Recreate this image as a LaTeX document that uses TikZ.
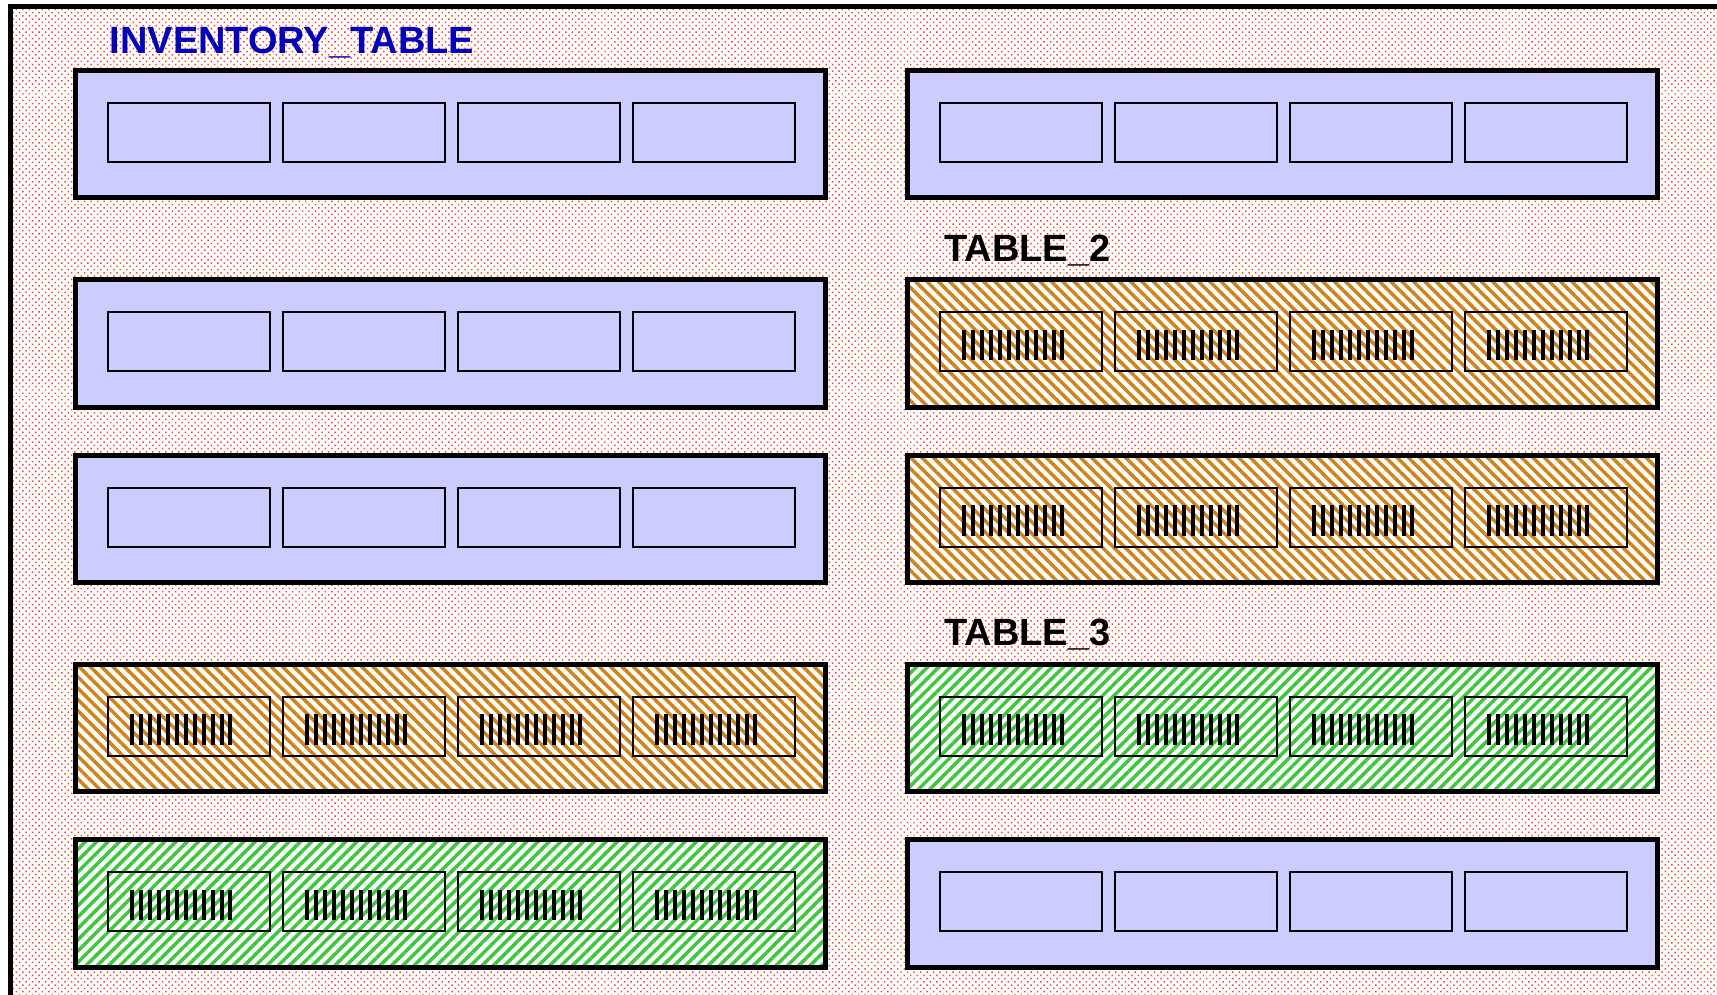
\documentclass[tikz,border=0pt]{standalone}
\usepackage{fontspec}
\setmainfont{Liberation Sans}
\usetikzlibrary{patterns.meta}
\definecolor{lav}{RGB}{204,204,255}
\definecolor{dotred}{RGB}{255,70,40}
\definecolor{hatchor}{RGB}{208,132,24}
\definecolor{hatchgr}{RGB}{60,200,60}
\definecolor{titleblue}{RGB}{0,0,192}
\tikzset{
  tbl/.style={draw=black, line width=5pt, minimum width=750pt, minimum height=127.5pt,
    inner sep=0pt, outer sep=0pt, anchor=north west},
  plainbox/.style={tbl, fill=lav},
  orbox/.style={tbl, preaction={fill=white},
    pattern={Lines[angle=-45,distance=8pt,line width=3.5pt]}, pattern color=hatchor},
  grbox/.style={tbl, preaction={fill=white},
    pattern={Lines[angle=45,distance=8pt,line width=3.5pt]}, pattern color=hatchgr},
  cellbox/.style={draw=black, line width=2pt, minimum width=162pt, minimum height=59pt,
    inner sep=0pt, outer sep=0pt, anchor=north west},
  barline/.style={line width=4pt, black},
  title/.style={font=\bfseries\fontsize{38}{40}\selectfont, inner sep=0pt, anchor=base west},
  frame/.style={line width=5pt, black}
}
\begin{document}
\begin{tikzpicture}[x=1pt,y=-1pt]
\useasboundingbox (0,0) rectangle (1717,995);
\clip (0,0) rectangle (1717,995);
\fill[white] (0,0) rectangle (1717,995);
\fill[pattern={Dots[angle=45,distance=4.6pt,radius=1.05pt]}, pattern color=dotred]
  (10.5,6.5) rectangle (1717,995);
\coordinate (fa) at (10.5,1010);
\coordinate (fb) at (10.5,6.5);
\coordinate (fc) at (1730,6.5);
\draw[frame] (fa) -- (fb) -- (fc);

% boxes: name / x / top / style / hatched?
\foreach \nm/\bx/\by/\st/\hb in {
  L1/75.5/70.5/plainbox/0, L2/75.5/279.5/plainbox/0, L3/75.5/455/plainbox/0,
  L4/75.5/664/orbox/1, L5/75.5/839.5/grbox/1,
  R1/907.5/70.5/plainbox/0, R2/907.5/279.5/orbox/1, R3/907.5/455/orbox/1,
  R4/907.5/664/grbox/1, R5/907.5/839.5/plainbox/0}{
  \node[\st] (\nm) at (\bx,\by) {};
  \foreach \i in {0,1,2,3}{
    \node[cellbox] (\nm c\i) at ([shift={(32+\i*175,32.5)}]\nm.north west) {};
    \ifnum\hb=1
      \foreach \k in {0,...,11}{
        \draw[barline] ([shift={(24.4+\k*8.96,17.6)}]\nm c\i.north west) -- ++(0,30.7);
      }
    \fi
  }
}

\node[title, text=titleblue] (t1) at (109.5,53.3) {INVENTORY\_TABLE};
\node[title, text=black] (t2) at (944,261.7) {TABLE\_2};
\node[title, text=black] (t3) at (944,645.5) {TABLE\_3};
\end{tikzpicture}
\end{document}
